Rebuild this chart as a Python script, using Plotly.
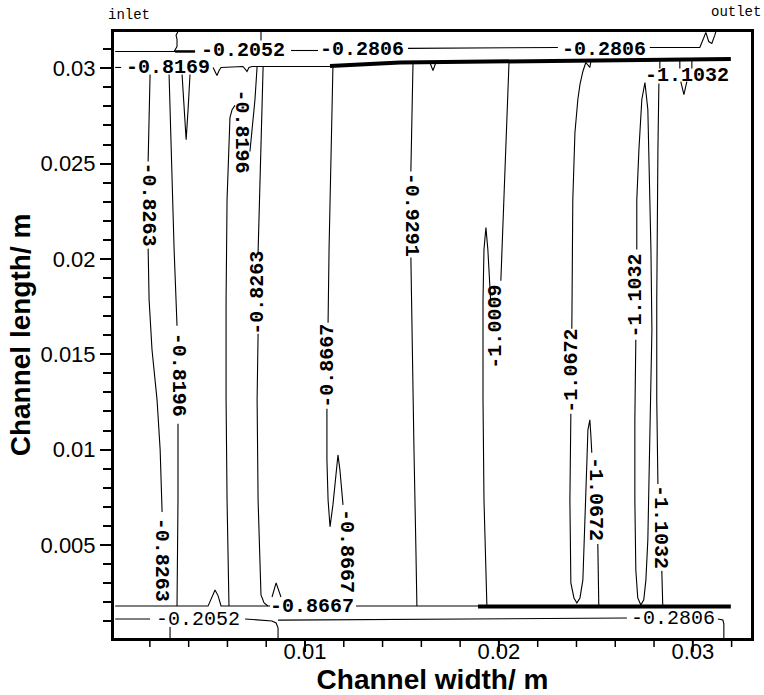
import plotly.graph_objects as go

# ---------------- contour line paths (metres) ----------------
# top boundary contour (-0.2052 / -0.2806)
top_left_x = [0.00021, 0.00433]
top_left_y = [0.03088, 0.03088]
top_hook_x = [0.00325, 0.00340, 0.00340, 0.00335, 0.00345]
top_hook_y = [0.03088, 0.03114, 0.03151, 0.03172, 0.03193]
top_mid1_x = [0.00928, 0.01067]
top_mid1_y = [0.03093, 0.03093]
top_mid2_x = [0.01531, 0.02304]
top_mid2_y = [0.03104, 0.03109]
top_right_x = [0.02778, 0.03036, 0.03057, 0.03067, 0.03082, 0.03098, 0.03113, 0.03119]
top_right_y = [0.03109, 0.03109, 0.03161, 0.03188, 0.03140, 0.03130, 0.03172, 0.03193]
top_tick_x = [0.00773, 0.00773]
top_tick_y = [0.03193, 0.03146]

# -0.8169 contour near the upper wall
c8169_left_x = [0.00021, 0.00052]
c8169_left_y = [0.03004, 0.03004]
c8169_right_x = [0.00526, 0.00536, 0.00546, 0.00557, 0.00567, 0.00680, 0.00691,
                 0.00701, 0.00711, 0.00727, 0.01129]
c8169_right_y = [0.03004, 0.02983, 0.02962, 0.02988, 0.03004, 0.03009, 0.02993,
                 0.02983, 0.03004, 0.03009, 0.03009]
upper_wall_x = [0.01129, 0.01490, 0.03196]
upper_wall_y = [0.03012, 0.03030, 0.03048]
dip1_x = [0.01644, 0.01660, 0.01675]
dip1_y = [0.03030, 0.02988, 0.03030]
dip2_x = [0.02938, 0.02954, 0.02969]
dip2_y = [0.02930, 0.02862, 0.02930]
stub1_x = [0.02933, 0.02933]
stub1_y = [0.03040, 0.02999]
stub2_x = [0.02995, 0.02995]
stub2_y = [0.03040, 0.02999]

# lower wall contours
lower_left_x = [0.00021, 0.00500, 0.00505, 0.00521, 0.00536, 0.00552, 0.00562, 0.00567, 0.00820]
lower_left_y = [0.00180, 0.00180, 0.00191, 0.00233, 0.00264, 0.00233, 0.00191, 0.00180, 0.00180]
lower_mid_x = [0.01263, 0.01902]
lower_mid_y = [0.00180, 0.00180]
lower_wall_x = [0.01892, 0.03196]
lower_wall_y = [0.00177, 0.00177]
spike_x = [0.00830, 0.00851, 0.00876]
spike_y = [0.00227, 0.00301, 0.00227]
bot_a_x = [0.00021, 0.00201]
bot_a_y = [0.00112, 0.00112]
bot_b_x = [0.00691, 0.00794, 0.00830, 0.00851, 0.00861, 0.00861]
bot_b_y = [0.00112, 0.00106, 0.00101, 0.00091, 0.00065, 0.00012]
bot_c_x = [0.00861, 0.02660]
bot_c_y = [0.00106, 0.00117]
bot_d_x = [0.03129, 0.03155, 0.03160, 0.03160]
bot_d_y = [0.00112, 0.00106, 0.00086, 0.00012]
bot_e_x = [0.00304, 0.00304]
bot_e_y = [0.00070, 0.00012]

# vertical contours
a_top_x = [0.00201, 0.00196, 0.00191]
a_top_y = [0.02967, 0.02731, 0.02511]
a_bot_x = [0.00191, 0.00196, 0.00211, 0.00237, 0.00253, 0.00263]
a_bot_y = [0.02054, 0.01786, 0.01524, 0.01261, 0.00999, 0.00673]
b_top_x = [0.00299, 0.00309, 0.00325, 0.00340]
b_top_y = [0.02967, 0.02573, 0.02049, 0.01650]
b_bot_x = [0.00345, 0.00345, 0.00340]
b_bot_y = [0.01135, 0.00736, 0.00180]
vloop_x = [0.00366, 0.00376, 0.00387, 0.00397, 0.00407]
vloop_y = [0.02967, 0.02783, 0.02625, 0.02783, 0.02967]
l4_x = [0.00608, 0.00598, 0.00593, 0.00593, 0.00598, 0.00608, 0.00613, 0.00624, 0.00639]
l4_y = [0.00180, 0.00736, 0.01261, 0.01786, 0.02309, 0.02625, 0.02741, 0.02783, 0.02805]
c_x = [0.00753, 0.00742, 0.00727, 0.00716]
c_y = [0.03009, 0.02836, 0.02679, 0.02563]
d_top_x = [0.00784, 0.00773, 0.00763, 0.00758]
d_top_y = [0.03009, 0.02573, 0.02309, 0.02033]
d_bot_x = [0.00758, 0.00753, 0.00758, 0.00768, 0.00773, 0.00789, 0.00809]
d_bot_y = [0.01608, 0.01261, 0.00736, 0.00317, 0.00238, 0.00196, 0.00180]
e_top_x = [0.01144, 0.01134, 0.01124, 0.01119]
e_top_y = [0.03009, 0.02573, 0.02049, 0.01665]
e_bot_x = [0.01113, 0.01113, 0.01119, 0.01129, 0.01144, 0.01160, 0.01170, 0.01180, 0.01191, 0.01196]
e_bot_y = [0.01214, 0.00946, 0.00736, 0.00595, 0.00710, 0.00852, 0.00972, 0.00894, 0.00789, 0.00710]
f_top_x = [0.01557, 0.01552, 0.01546]
f_top_y = [0.03030, 0.02731, 0.02458]
f_bot_x = [0.01546, 0.01552, 0.01562, 0.01572, 0.01577]
f_bot_y = [0.02007, 0.01524, 0.00999, 0.00474, 0.00180]
g_x = [0.02052, 0.02041, 0.02026, 0.02010]
g_y = [0.03030, 0.02731, 0.02309, 0.01886]
gloop_x = [0.01938, 0.01923, 0.01918, 0.01918, 0.01923, 0.01933, 0.01943, 0.01954, 0.01959]
gloop_y = [0.00180, 0.00736, 0.01261, 0.01786, 0.02049, 0.02164, 0.02049, 0.01865, 0.01750]
h_top_x = [0.02474, 0.02469, 0.02448, 0.02433, 0.02418, 0.02407, 0.02392, 0.02381, 0.02376]
h_top_y = [0.03035, 0.03004, 0.03030, 0.02983, 0.02915, 0.02836, 0.02662, 0.02309, 0.01634]
h_mid_x = [0.02371, 0.02366, 0.02371, 0.02387, 0.02402, 0.02418, 0.02433, 0.02443, 0.02448,
           0.02454, 0.02459, 0.02469, 0.02474, 0.02479]
h_mid_y = [0.01188, 0.00736, 0.00301, 0.00222, 0.00196, 0.00222, 0.00317, 0.00580, 0.00789,
           0.00946, 0.01104, 0.01156, 0.01078, 0.00983]
h_bot_x = [0.02510, 0.02515]
h_bot_y = [0.00505, 0.00180]
i_x = [0.02706, 0.02701, 0.02701, 0.02706, 0.02716, 0.02732, 0.02747, 0.02758, 0.02768, 0.02778,
       0.02784, 0.02789, 0.02784, 0.02773, 0.02768, 0.02753, 0.02737, 0.02722, 0.02711, 0.02711]
i_y = [0.01576, 0.01156, 0.00736, 0.00369, 0.00222, 0.00185, 0.00212, 0.00317, 0.00526, 0.00999,
       0.01366, 0.01629, 0.02049, 0.02573, 0.02783, 0.02925, 0.02836, 0.02573, 0.02309, 0.02049]
j_stub_x = [0.02830, 0.02830]
j_stub_y = [0.03035, 0.02999]
j_x = [0.02825, 0.02820, 0.02814, 0.02814, 0.02820]
j_y = [0.02920, 0.02573, 0.01786, 0.01261, 0.00820]
j_bot_x = [0.02840, 0.02845]
j_bot_y = [0.00364, 0.00180]

thin_paths = [
    (top_left_x, top_left_y), (top_hook_x, top_hook_y), (top_mid1_x, top_mid1_y),
    (top_mid2_x, top_mid2_y), (top_right_x, top_right_y), (top_tick_x, top_tick_y),
    (c8169_left_x, c8169_left_y), (c8169_right_x, c8169_right_y),
    (dip1_x, dip1_y), (dip2_x, dip2_y), (stub1_x, stub1_y), (stub2_x, stub2_y),
    (lower_left_x, lower_left_y), (lower_mid_x, lower_mid_y), (spike_x, spike_y),
    (bot_a_x, bot_a_y), (bot_b_x, bot_b_y), (bot_c_x, bot_c_y), (bot_d_x, bot_d_y),
    (bot_e_x, bot_e_y),
    (a_top_x, a_top_y), (a_bot_x, a_bot_y), (b_top_x, b_top_y), (b_bot_x, b_bot_y),
    (vloop_x, vloop_y), (l4_x, l4_y), (c_x, c_y), (d_top_x, d_top_y), (d_bot_x, d_bot_y),
    (e_top_x, e_top_y), (e_bot_x, e_bot_y), (f_top_x, f_top_y), (f_bot_x, f_bot_y),
    (g_x, g_y), (gloop_x, gloop_y), (h_top_x, h_top_y), (h_mid_x, h_mid_y),
    (h_bot_x, h_bot_y), (i_x, i_y), (j_stub_x, j_stub_y), (j_x, j_y), (j_bot_x, j_bot_y),
]
thick_paths = [(upper_wall_x, upper_wall_y), (lower_wall_x, lower_wall_y)]

# ---------------- contour labels ----------------
label_text = ["-0.2052", "-0.2806", "-0.2806", "-0.8169", "-1.1032", "-0.8667", "-0.2052",
              "-0.2806", "-0.8263", "-0.8196", "-0.8263", "-0.8667", "-0.9291", "-1.0009",
              "-1.0672", "-1.1032", "-0.8196", "-1.0672", "-1.1032", "-0.8667", "-0.8263"]
label_x = [0.006804, 0.012938, 0.025412, 0.002938, 0.029691, 0.010361, 0.004485,
           0.028969, 0.001907, 0.006701, 0.007577, 0.011186, 0.015464, 0.019845,
           0.023763, 0.027062, 0.003454, 0.024948, 0.028299, 0.012113, 0.002577]
label_y = [0.030931, 0.030984, 0.030984, 0.030039, 0.029619, 0.001748, 0.001066,
           0.001118, 0.022848, 0.026680, 0.018229, 0.014397, 0.022323, 0.016444,
           0.014135, 0.018071, 0.013926, 0.007416, 0.005947, 0.004687, 0.004215]
label_angle = [0, 0, 0, 0, 0, 0, 0, 0, 90, 90, -90, -90, 90, -90, -90, -90, 90, 90, 90, 90, 90]
label_bold = [1, 1, 1, 1, 1, 1, 0, 0, 1, 1, 1, 1, 1, 1, 1, 1, 1, 1, 1, 1, 1]

# x-axis tick positions (major labelled, minor unlabelled)
x_major_ticks = [0.01, 0.02, 0.03]
x_minor_ticks = [0.002, 0.004, 0.006, 0.008, 0.012, 0.014, 0.016, 0.018,
                 0.022, 0.024, 0.026, 0.028, 0.032]

fig = go.Figure()
for px_, py_ in thin_paths:
    fig.add_trace(go.Scatter(x=px_, y=py_, mode="lines",
                             line=dict(color="black", width=1.1),
                             hoverinfo="skip", showlegend=False))
for px_, py_ in thick_paths:
    fig.add_trace(go.Scatter(x=px_, y=py_, mode="lines",
                             line=dict(color="black", width=4),
                             hoverinfo="skip", showlegend=False))
fig.add_trace(go.Scatter(x=[0.00330, 0.00433], y=[0.03088, 0.03088], mode="lines",
                         line=dict(color="black", width=2.5),
                         hoverinfo="skip", showlegend=False))

for t, x, y, a, b in zip(label_text, label_x, label_y, label_angle, label_bold):
    fig.add_annotation(x=x, y=y, xref="x", yref="y", text=(f"<b>{t}</b>" if b else t),
                       textangle=a, showarrow=False, xanchor="center", yanchor="middle",
                       font=dict(family="Liberation Mono", size=20, color="black"))

fig.add_annotation(x=0.0235, y=1.028, xref="paper", yref="paper", text="inlet",
                   xanchor="center", yanchor="middle",
                   showarrow=False, font=dict(family="Liberation Mono", size=14, color="black"))
fig.add_annotation(x=0.976, y=1.033, xref="paper", yref="paper", text="outlet",
                   xanchor="center", yanchor="middle",
                   showarrow=False, font=dict(family="Liberation Mono", size=14, color="black"))

# x-axis tick marks (major ones reach into the tick labels, as in the original)
for v in x_major_ticks:
    fig.add_shape(type="line", xref="x", yref="paper", x0=v, x1=v, y0=0, y1=-14 / 606,
                  line=dict(color="black", width=2), layer="above")
for v in x_minor_ticks:
    fig.add_shape(type="line", xref="x", yref="paper", x0=v, x1=v, y0=0, y1=-9 / 606,
                  line=dict(color="black", width=1.5), layer="above")

axis_font = dict(family="Liberation Sans", size=22, color="black")
fig.update_layout(
    width=764, height=695,
    margin=dict(l=114, r=13, t=32, b=57),
    paper_bgcolor="white", plot_bgcolor="white",
    hovermode=False,
    xaxis=dict(range=[0.00015, 0.033], showgrid=False, zeroline=False, automargin=False,
               showline=True, mirror=True, linewidth=3, linecolor="black",
               ticks="", tick0=0, dtick=0.01, tickfont=axis_font, ticklabelstandoff=-8,
               title=dict(text="<b>Channel width/ m</b>", standoff=4,
                          font=dict(family="Liberation Sans", size=28, color="black"))),
    yaxis=dict(range=[0.00012, 0.0319], showgrid=False, zeroline=False, automargin=False,
               showline=True, mirror=True, linewidth=3, linecolor="black",
               ticks="outside", ticklen=11, tickwidth=2, tickcolor="black",
               tick0=0, dtick=0.005, tickfont=axis_font,
               minor=dict(dtick=0.001, ticks="outside", ticklen=8, tickwidth=1.5,
                          tickcolor="black"),
               title=dict(text="<b>Channel length/ m</b>", standoff=2,
                          font=dict(family="Liberation Sans", size=28, color="black"))),
)

fig.write_html("out.html")
